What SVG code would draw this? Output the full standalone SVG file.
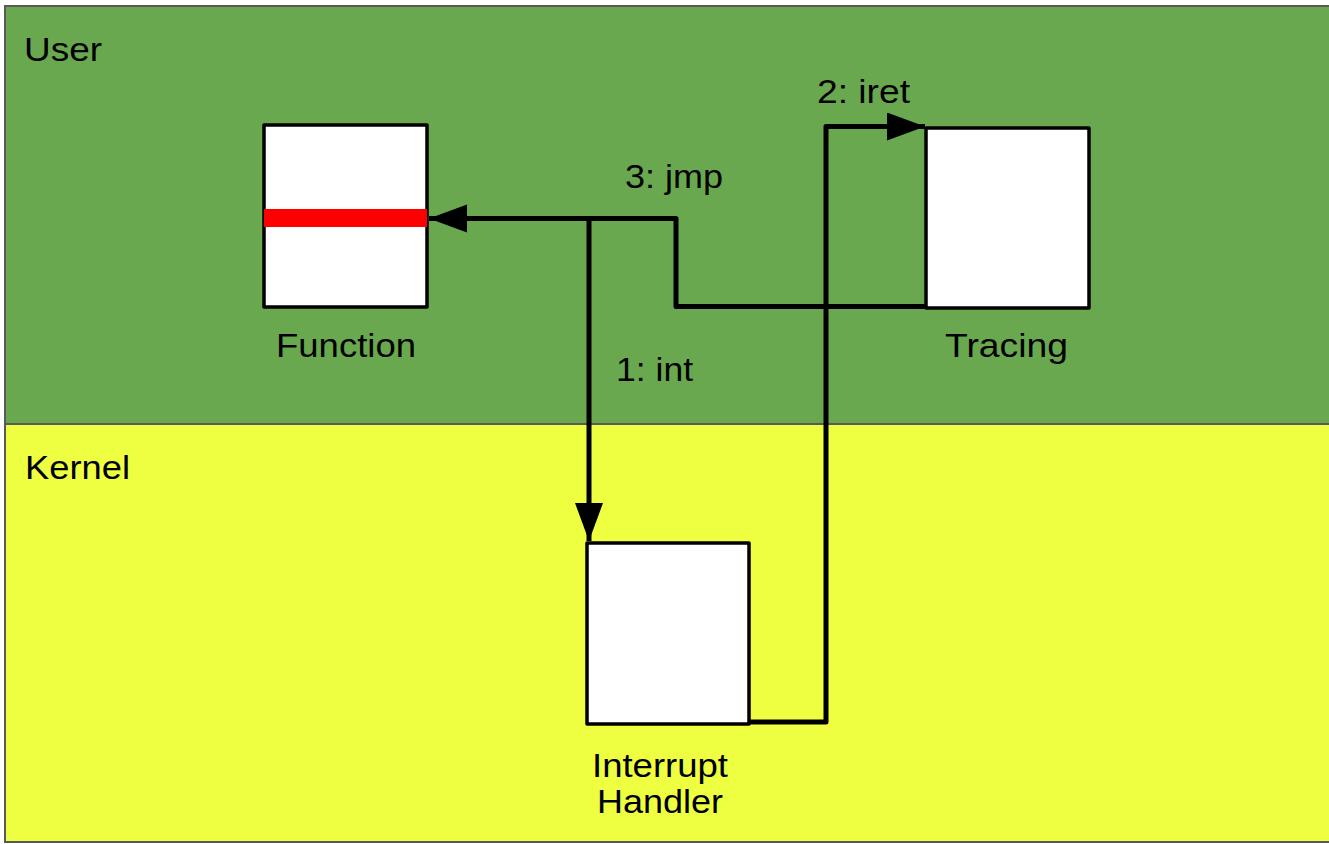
<svg xmlns="http://www.w3.org/2000/svg" width="1329" height="844" viewBox="0 0 1329 844">
  <style>
    .lbl { font-family: "Liberation Sans", Arial, sans-serif; font-size: 33px; fill: #000; }
    .box { fill: #ffffff; stroke: #000; stroke-width: 3.5; stroke-linejoin: round; }
    .conn { fill: none; stroke: #000; stroke-width: 5; stroke-linejoin: round; }
    .zone { stroke: #595959; stroke-width: 2; }
  </style>
  <defs>
    <marker id="arrow" markerUnits="userSpaceOnUse" markerWidth="42" markerHeight="30" refX="38" refY="14" orient="auto">
      <path d="M0,0 L38,14 L0,28 z" fill="#000"/>
    </marker>
  </defs>

  <g id="zone-user">
    <rect class="zone" x="5" y="6" width="1340" height="418" fill="#6aa84f"/>
    <text class="lbl" x="24" y="61" textLength="78" lengthAdjust="spacingAndGlyphs">User</text>
  </g>
  <g id="zone-kernel">
    <rect class="zone" x="5" y="424" width="1340" height="418" fill="#eeff41"/>
    <text class="lbl" x="25" y="479" textLength="105" lengthAdjust="spacingAndGlyphs">Kernel</text>
  </g>

  <g id="node-function">
    <rect class="box" x="264" y="125" width="163" height="182"/>
    <rect x="264" y="209" width="163" height="18" fill="#ff0000"/>
    <text class="lbl" x="276" y="357" textLength="140" lengthAdjust="spacingAndGlyphs">Function</text>
  </g>

  <g id="node-tracing">
    <rect class="box" x="926" y="128" width="163" height="180"/>
    <text class="lbl" x="945" y="357" textLength="123" lengthAdjust="spacingAndGlyphs">Tracing</text>
  </g>

  <g id="node-interrupt-handler">
    <rect class="box" x="587" y="543" width="162" height="181"/>
    <text class="lbl" x="592" y="777" textLength="136" lengthAdjust="spacingAndGlyphs">Interrupt</text>
    <text class="lbl" x="597" y="813" textLength="126" lengthAdjust="spacingAndGlyphs">Handler</text>
  </g>

  <g id="connectors">
    <path class="conn" d="M589,218.5 L589,541" marker-end="url(#arrow)"/>
    <path class="conn" d="M749,722 L826,722 L826,126.5 L925,126.5" marker-end="url(#arrow)"/>
    <path class="conn" d="M925,306.5 L676,306.5 L676,218.5 L429,218.5" marker-end="url(#arrow)"/>
    <text class="lbl" x="616" y="381" textLength="77" lengthAdjust="spacingAndGlyphs">1: int</text>
    <text class="lbl" x="817" y="103" textLength="93" lengthAdjust="spacingAndGlyphs">2: iret</text>
    <text class="lbl" x="625" y="188" textLength="98" lengthAdjust="spacingAndGlyphs">3: jmp</text>
  </g>
</svg>
